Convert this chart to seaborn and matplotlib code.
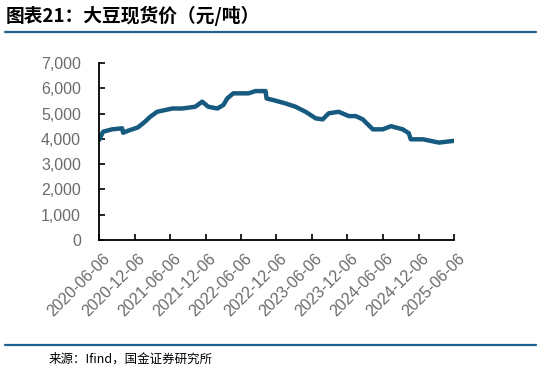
import matplotlib
matplotlib.use("Agg")
import matplotlib.pyplot as plt
import matplotlib.dates as mdates
import matplotlib.transforms as mtransforms
from matplotlib.ticker import FuncFormatter, FixedLocator
import seaborn as sns
import pandas as pd

dates = ["2020-06-06", "2020-06-27", "2020-08-12", "2020-10-03", "2020-10-08",
         "2020-11-03", "2020-12-24", "2021-01-29", "2021-02-24", "2021-04-01",
         "2021-06-18", "2021-08-08", "2021-10-14", "2021-11-19", "2021-12-20",
         "2022-02-05", "2022-03-08", "2022-03-28", "2022-04-28", "2022-07-15",
         "2022-08-20", "2022-10-11", "2022-10-16", "2022-12-01", "2023-01-22",
         "2023-03-14", "2023-05-05", "2023-06-26", "2023-08-01", "2023-09-01",
         "2023-10-22", "2023-12-13", "2024-01-18", "2024-02-23", "2024-04-15",
         "2024-06-05", "2024-07-17", "2024-09-16", "2024-10-17", "2024-10-27",
         "2024-12-29", "2025-03-21", "2025-06-06"]
prices = [3950, 4280, 4375, 4415, 4240,
          4320, 4455, 4680, 4870, 5070,
          5200, 5200, 5270, 5470, 5270,
          5200, 5340, 5600, 5800, 5800,
          5890, 5890, 5600, 5510, 5400,
          5270, 5070, 4810, 4770, 5010,
          5070, 4900, 4900, 4770, 4375,
          4375, 4500, 4375, 4220, 3980,
          3980, 3850, 3920]
tick_labels = ["2020-06-06", "2020-12-06", "2021-06-06", "2021-12-06", "2022-06-06",
               "2022-12-06", "2023-06-06", "2023-12-06", "2024-06-06", "2024-12-06",
               "2025-06-06"]
title = "图表21：大豆现货价（元/吨）"
source = "来源：Ifind，国金证券研究所"

df = pd.DataFrame({"date": pd.to_datetime(dates), "price": prices})

sns.set_theme(style="white")
plt.rcParams["font.family"] = ["Liberation Sans", "Noto Sans CJK SC", "DejaVu Sans"]

fig = plt.figure(figsize=(5.41, 3.73), dpi=100)
ax = fig.add_axes([0.183, 0.357, 0.656, 0.474])

sns.lineplot(data=df, x="date", y="price", ax=ax, color="#175a80", linewidth=3.2)

ax.set_xlim(pd.Timestamp("2020-06-06"), pd.Timestamp("2025-06-06"))
ax.set_ylim(0, 7000)
ax.set_yticks(range(0, 7001, 1000))
ax.yaxis.set_major_formatter(FuncFormatter(lambda v, p: f"{int(v):,}"))
ticks = [mdates.date2num(pd.Timestamp(t)) for t in tick_labels]
ax.xaxis.set_major_locator(FixedLocator(ticks))
ax.set_xticklabels(tick_labels, rotation=45, ha="right", rotation_mode="anchor")
ax.set_xlabel("")
ax.set_ylabel("")

for s in ["top", "right"]:
    ax.spines[s].set_visible(False)
for s in ["left", "bottom"]:
    ax.spines[s].set_color("black")
    ax.spines[s].set_linewidth(1.3)
ax.tick_params(axis="both", direction="in", length=4, width=1.2, color="black",
               labelsize=11.5, labelcolor="#6b6b6b", left=True, bottom=True)
ax.tick_params(axis="y", pad=13)
ax.tick_params(axis="x", pad=8)

offset = mtransforms.ScaledTranslation(3 / 100, 0, fig.dpi_scale_trans)
for lbl in ax.get_xticklabels():
    lbl.set_transform(lbl.get_transform() + offset)

fig.text(0.01, 0.957, title, fontsize=13.5, fontweight="bold", color="black",
         family=["Noto Sans CJK SC", "DejaVu Sans"], va="center", ha="left",
         style="italic")
fig.add_artist(plt.Line2D([0.009, 0.991], [1 - 32 / 373, 1 - 32 / 373],
                          color="#1d6390", linewidth=1.6))
fig.add_artist(plt.Line2D([0.009, 0.991], [1 - 344.5 / 373, 1 - 344.5 / 373],
                          color="#1d6390", linewidth=1.6))
fig.text(0.089, 1 - 359 / 373, source, fontsize=9, color="black",
         family=["Noto Sans CJK SC", "DejaVu Sans"], va="center", ha="left")

fig.savefig("out.png", dpi=100)
